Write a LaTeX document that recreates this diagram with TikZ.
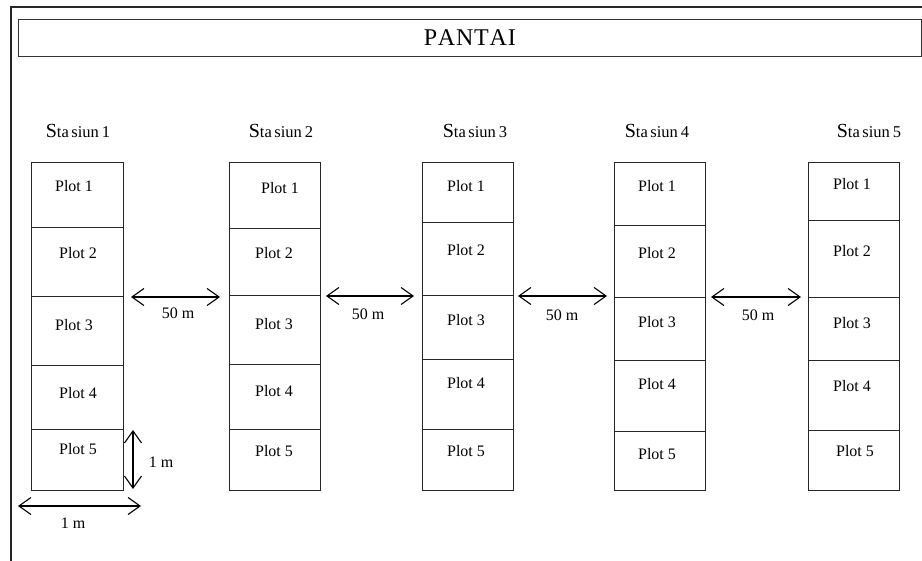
\documentclass[tikz,border=0pt]{standalone}
\usepackage{fontspec}
\setmainfont{Liberation Serif}
\usetikzlibrary{arrows.meta}
\tikzset{
  frame/.style={draw=black!85, line width=1.3pt},
  titlebox/.style={draw=black!80, line width=1.1pt},
  cell/.style={draw=black!85, line width=1pt},
  plotlabel/.style={inner sep=0pt, font=\fontsize{16}{16}\selectfont},
  dimlabel/.style={inner sep=0pt, font=\fontsize{16}{16}\selectfont},
  stlabel/.style={inner sep=0pt},
  span/.style={line width=1.1pt, {Straight Barb[length=12pt,width=17pt]}-{Straight Barb[length=12pt,width=17pt]}}
}
\newcommand{\stasiunname}[1]{{\fontsize{20}{20}\selectfont S}{\fontsize{16.5}{16}\selectfont ta\hspace{2.5pt}siun\hspace{3pt}#1}}
\begin{document}
\begin{tikzpicture}[x=1pt, y=-1pt]
\useasboundingbox (0,0) rectangle (922,561);
% outer frame (continues past the right and bottom edges)
\draw[frame] (11,561) -- (11,7) -- (922,7);
% title bar
\node[titlebox, minimum width=903.5pt, minimum height=37pt, inner sep=0pt, anchor=north west,
      font=\fontsize{24}{24}\selectfont] (title) at (17.5,19) {P\hspace{0.8pt}A\hspace{0.8pt}N\hspace{0.8pt}T\hspace{0.8pt}A\hspace{0.8pt}I};

% station columns: name / left / right / divider heights / label x positions
\foreach \n/\xl/\xr/\da/\db/\dc/\dd/\sx in {
   1/31/123/228/297/366/430/78,
   2/229/320/229/296/365/430/281,
   3/422/513/223/296/360/430/475,
   4/614/705/226/298/361/432/657,
   5/808/899/221/298/361/431/869}{
  \draw[cell] (\xl,163) rectangle (\xr,491);
  \coordinate (c\n) at ({(\xl+\xr)/2},163);
  \draw[cell] (\xl,\da) -- (\xr,\da);
  \draw[cell] (\xl,\db) -- (\xr,\db);
  \draw[cell] (\xl,\dc) -- (\xr,\dc);
  \draw[cell] (\xl,\dd) -- (\xr,\dd);
  \node[stlabel] (s\n) at (\sx,131) {\stasiunname{\n}};
}

% plot labels
\foreach \n/\ya/\yb/\yc/\yd/\ye/\xa/\xb/\xc/\xd/\xe in {
   1/186/253/325/393/449/74/78/74/78/78,
   2/188/253/324/391/451/280/274/274/274/274,
   3/186/250/320/383/451/466/466/466/466/466,
   4/186/253/322/384/454/657/657/657/657/657,
   5/184/251/323/386/451/852/852/852/852/855}{
  \node[plotlabel] (p\n-1) at (\xa,\ya) {Plot 1};
  \node[plotlabel] (p\n-2) at (\xb,\yb) {Plot 2};
  \node[plotlabel] (p\n-3) at (\xc,\yc) {Plot 3};
  \node[plotlabel] (p\n-4) at (\xd,\yd) {Plot 4};
  \node[plotlabel] (p\n-5) at (\xe,\ye) {Plot 5};
}

% 50 m spacing between stations
\foreach \i/\xa/\xb/\y/\lx/\ly in {
   12/131/220/297/178/313,
   23/326/414/296/368/314,
   34/518/607/296/562/315,
   45/711/801/297/758/315}{
  \coordinate (g\i l) at (\xa,\y);
  \coordinate (g\i r) at (\xb,\y);
  \draw[span] (g\i l) -- (g\i r);
  \node[dimlabel] (d\i) at (\lx,\ly) {50 m};
}

% plot size: 1 m x 1 m
\coordinate (vt) at (133,430);
\coordinate (vb) at (133,489);
\draw[span] (vt) -- (vb);
\node[dimlabel] (vlab) at (161,462) {1 m};
\coordinate (hl) at (18,506);
\coordinate (hr) at (141,506);
\draw[span] (hl) -- (hr);
\node[dimlabel] (hlab) at (73,523) {1 m};
\end{tikzpicture}
\end{document}
